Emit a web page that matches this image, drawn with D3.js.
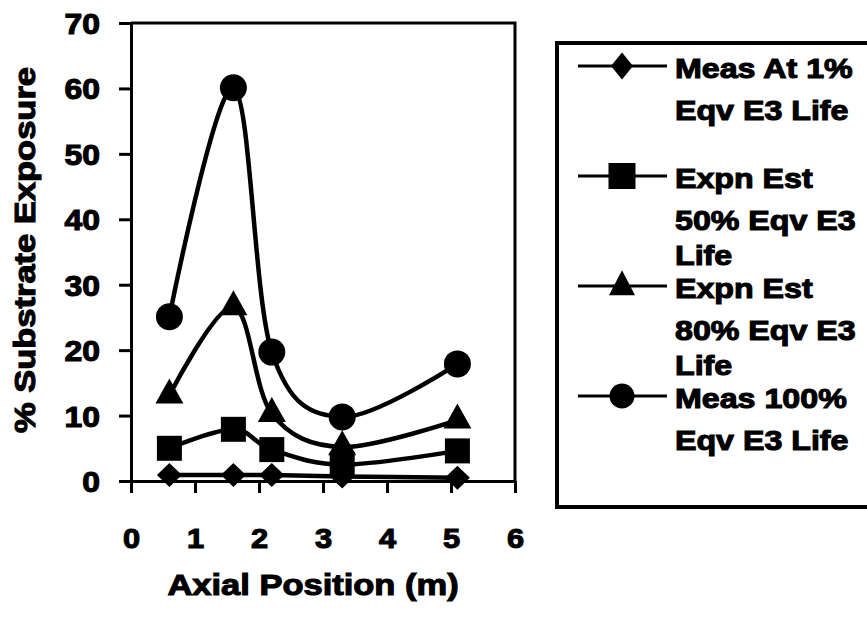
<!DOCTYPE html>
<html>
<head>
<meta charset="utf-8">
<script src="https://cdn.jsdelivr.net/npm/d3@7"></script>
<style>
  html, body { margin: 0; padding: 0; background: #fff; }
  svg { display: block; }
  text { font-family: "Liberation Sans", Arial, sans-serif; font-weight: bold; fill: #000; stroke: #000; stroke-width: 1.1px; }
</style>
</head>
<body>
<svg id="chart" width="867" height="627"></svg>
<script>
// ---- data ----
const axialPosition = [0.6, 1.6, 2.2, 3.3, 5.1];
const meas1 = [0.9, 0.9, 0.9, 0.7, 0.5];
const est50 = [5.0, 7.9, 4.8, 2.5, 4.6];
const est80 = [13.1, 26.6, 10.3, 5.2, 9.3];
const meas100 = [25.1, 60.1, 19.7, 9.8, 17.9];
const seriesNames = [
  ["Meas At 1%", "Eqv E3 Life"],
  ["Expn Est", "50% Eqv E3", "Life"],
  ["Expn Est", "80% Eqv E3", "Life"],
  ["Meas 100%", "Eqv E3 Life"]
];
const markerTypes = ["diamond", "square", "triangle", "circle"];
const xTicks = [0, 1, 2, 3, 4, 5, 6];
const yTicks = [0, 10, 20, 30, 40, 50, 60, 70];
const xTitle = "Axial Position (m)";
const yTitle = "% Substrate Exposure";

const seriesValues = [meas1, est50, est80, meas100];

// ---- layout ----
const svg = d3.select("#chart");
const x = d3.scaleLinear().domain([0, 6]).range([131, 515]);
const y = d3.scaleLinear().domain([0, 70]).range([481, 23]);

function markerPath(type, w, h) {
  const p = d3.path();
  if (type === "diamond") {
    p.moveTo(0, -h / 2); p.lineTo(w / 2, 0); p.lineTo(0, h / 2); p.lineTo(-w / 2, 0); p.closePath();
  } else if (type === "square") {
    p.rect(-w / 2, -h / 2, w, h);
  } else if (type === "triangle") {
    p.moveTo(0, -2 * h / 3); p.lineTo(w / 2, h / 3); p.lineTo(-w / 2, h / 3); p.closePath();
  } else {
    p.arc(0, 0, w / 2, 0, 2 * Math.PI); p.closePath();
  }
  return p.toString();
}
const plotMarkerSize = {
  diamond: [25, 24], square: [25, 25], triangle: [28, 25], circle: [27, 27]
};
const legendMarkerSize = {
  diamond: [22, 27], square: [27, 26], triangle: [26, 25], circle: [25, 25]
};

// plot frame (top and right)
svg.append("path")
  .attr("d", `M${x(0)},${y(70)}H${x(6)}V${y(0)}`)
  .attr("fill", "none").attr("stroke", "#000").attr("stroke-width", 3);

// y axis
const yAxis = svg.append("g")
  .attr("transform", `translate(${x(0)},0)`)
  .call(d3.axisLeft(y).tickValues(yTicks).tickSize(12).tickSizeOuter(0).tickFormat(d3.format("d")));
yAxis.select(".domain").attr("stroke-width", 3);
yAxis.selectAll(".tick line").attr("stroke-width", 3);
yAxis.selectAll(".tick text")
  .attr("x", 0).attr("dy", "0.36em")
  .attr("transform", "translate(-31,0) scale(1.1,1)")
  .style("font-size", "29px")
  .style("font-family", "'Liberation Sans', Arial, sans-serif")
  .style("font-weight", "bold");

// x axis
const xAxis = svg.append("g")
  .attr("transform", `translate(0,${y(0)})`)
  .call(d3.axisBottom(x).tickValues(xTicks).tickSize(12).tickSizeOuter(0).tickFormat(d3.format("d")));
xAxis.select(".domain").attr("stroke-width", 3);
xAxis.selectAll(".tick line").attr("stroke-width", 3);
xAxis.selectAll(".tick text")
  .attr("y", 0).attr("dy", 0)
  .attr("transform", "translate(0,67) scale(1.1,1)")
  .style("font-size", "28px")
  .style("font-family", "'Liberation Sans', Arial, sans-serif")
  .style("font-weight", "bold");

// axis titles
svg.append("text")
  .attr("text-anchor", "middle")
  .attr("transform", "translate(313,595) scale(1.15,1)")
  .style("font-size", "30px")
  .text(xTitle);
svg.append("text")
  .attr("text-anchor", "middle")
  .attr("transform", "translate(35,250) rotate(-90) scale(1.15,1)")
  .style("font-size", "30px")
  .text(yTitle);

// series lines and markers
const line = d3.line()
  .x((d, i) => x(axialPosition[i]))
  .y(d => y(d))
  .curve(d3.curveCardinal.tension(0));

seriesValues.forEach((vals, si) => {
  svg.append("path")
    .attr("d", line(vals))
    .attr("fill", "none").attr("stroke", "#000").attr("stroke-width", 4.5)
    .attr("stroke-linejoin", "round");
});
seriesValues.forEach((vals, si) => {
  const t = markerTypes[si];
  const [w, h] = plotMarkerSize[t];
  svg.append("g").selectAll("path")
    .data(vals)
    .join("path")
    .attr("d", markerPath(t, w, h))
    .attr("transform", (d, i) => `translate(${x(axialPosition[i])},${y(d)})`)
    .attr("fill", "#000");
});

// legend
svg.append("rect")
  .attr("x", 557).attr("y", 43).attr("width", 340).attr("height", 464)
  .attr("fill", "none").attr("stroke", "#000").attr("stroke-width", 4);

const lineOffsets = [0, 42, 77];
seriesNames.forEach((lines, si) => {
  const base = 78 + si * 110;
  const my = base - 12;
  const g = svg.append("g");
  g.append("line")
    .attr("x1", 578).attr("x2", 667).attr("y1", my).attr("y2", my)
    .attr("stroke", "#000").attr("stroke-width", 3);
  const t = markerTypes[si];
  const [w, h] = legendMarkerSize[t];
  g.append("path")
    .attr("d", markerPath(t, w, h))
    .attr("transform", `translate(622,${t === "triangle" ? my + 1 : my})`)
    .attr("fill", "#000");
  lines.forEach((txt, li) => {
    g.append("text")
      .attr("transform", `translate(675,${base + lineOffsets[li]}) scale(1.15,1)`)
      .style("font-size", "28px")
      .text(txt);
  });
});
</script>
</body>
</html>
